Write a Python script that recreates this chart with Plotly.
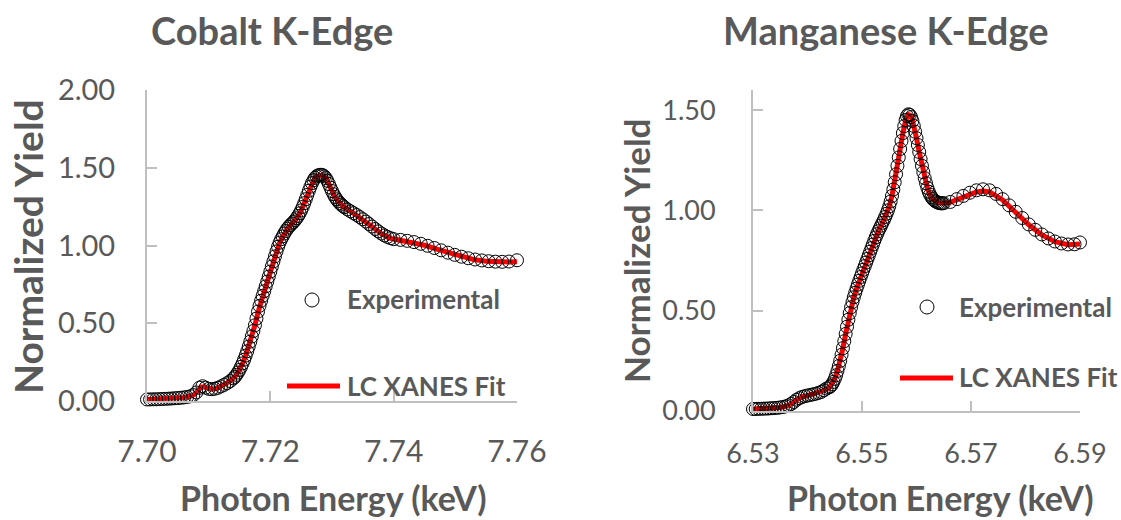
import plotly.graph_objects as go

# ---------------- Cobalt K-edge ----------------
co_exp_energy = [
    7.7000, 7.7005, 7.7010, 7.7015, 7.7020, 7.7025, 7.7030, 7.7035, 7.7040, 7.7045,
    7.7050, 7.7055, 7.7060, 7.7065, 7.7070, 7.7075, 7.7080, 7.7085, 7.7090, 7.7095,
    7.7100, 7.7105, 7.7110, 7.7115, 7.7120, 7.7125, 7.7130, 7.7135,
    7.71400, 7.71425, 7.71450, 7.71475, 7.71500, 7.71525, 7.71550, 7.71575,
    7.71600, 7.71625, 7.71650, 7.71675, 7.71700, 7.71725, 7.71750, 7.71775,
    7.71800, 7.71825, 7.71850, 7.71875, 7.71900, 7.71925, 7.71950, 7.71975,
    7.72000, 7.72025, 7.72050, 7.72075, 7.72100, 7.72125, 7.72150, 7.72175,
    7.72200, 7.72225, 7.72250, 7.72275, 7.72300, 7.72325, 7.72350, 7.72375,
    7.72400, 7.72425, 7.72450, 7.72475, 7.72500, 7.72525, 7.72550, 7.72575,
    7.72600, 7.72625, 7.72650, 7.72675, 7.72700, 7.72725, 7.72750, 7.72775,
    7.72800, 7.72825, 7.72850, 7.72875, 7.72900, 7.72925, 7.72950, 7.72975,
    7.73000, 7.73025, 7.73050, 7.73075, 7.73100, 7.73125, 7.73150, 7.73175,
    7.73200,
    7.7325, 7.7330, 7.7335, 7.7340, 7.7345, 7.7350, 7.7355, 7.7360,
    7.7365, 7.7370, 7.7375, 7.7380, 7.7385, 7.7390, 7.7395, 7.7400,
    7.7411, 7.7422, 7.7433, 7.7444, 7.7455, 7.7466, 7.7477, 7.7488, 7.7499,
    7.7510, 7.7521, 7.7532, 7.7543, 7.7554, 7.7565, 7.7576, 7.7587, 7.7600,
]
co_exp_yield = [
    0.010, 0.010, 0.011, 0.011, 0.012, 0.013, 0.014, 0.015, 0.016, 0.018,
    0.019, 0.021, 0.023, 0.026, 0.030, 0.038, 0.055, 0.085, 0.095, 0.086,
    0.078, 0.076, 0.079, 0.085, 0.094, 0.104, 0.115, 0.128,
    0.145, 0.155, 0.168, 0.183, 0.200, 0.220, 0.242, 0.266,
    0.292, 0.320, 0.350, 0.382, 0.415, 0.450, 0.487, 0.530,
    0.575, 0.612, 0.645, 0.676, 0.706, 0.737, 0.768, 0.800,
    0.832, 0.865, 0.898, 0.930, 0.962, 0.992, 1.018, 1.040,
    1.058, 1.077, 1.093, 1.108, 1.120, 1.131, 1.141, 1.151,
    1.162, 1.175, 1.190, 1.207, 1.226, 1.248, 1.272, 1.298,
    1.325, 1.352, 1.378, 1.401, 1.420, 1.435, 1.445, 1.451,
    1.454, 1.455, 1.452, 1.445, 1.433, 1.416, 1.395, 1.372,
    1.350, 1.330, 1.312, 1.297, 1.284, 1.273, 1.263, 1.254,
    1.246,
    1.232, 1.220, 1.208, 1.196, 1.183, 1.169, 1.154, 1.138,
    1.122, 1.106, 1.091, 1.077, 1.065, 1.055, 1.047, 1.041,
    1.036, 1.030, 1.022, 1.011, 0.998, 0.984, 0.969, 0.954, 0.940,
    0.928, 0.918, 0.910, 0.904, 0.899, 0.896, 0.895, 0.897, 0.905,
]
co_fit_energy = [
    7.7000, 7.7020, 7.7040, 7.7060, 7.7070, 7.7077, 7.7083, 7.7088, 7.7093, 7.7100,
    7.7107, 7.7115, 7.7125, 7.7135, 7.7145, 7.7150, 7.7155, 7.7160, 7.7165, 7.7170,
    7.7175, 7.7180, 7.7185, 7.7190, 7.7195, 7.7200, 7.7205, 7.7210, 7.7215, 7.7220,
    7.7225, 7.7230, 7.7235, 7.7240, 7.7245, 7.7250, 7.7255, 7.7260, 7.7265, 7.7270,
    7.7275, 7.7280, 7.7285, 7.7290, 7.7295, 7.7300, 7.7305, 7.7310, 7.7320, 7.7335,
    7.7350, 7.7365, 7.7380, 7.7395, 7.7410, 7.7430, 7.7450, 7.7470, 7.7490, 7.7510,
    7.7530, 7.7550, 7.7570, 7.7590, 7.7600,
]
co_fit_yield = [
    0.010, 0.012, 0.016, 0.023, 0.030, 0.042, 0.070, 0.090, 0.090, 0.079,
    0.076, 0.084, 0.103, 0.128, 0.167, 0.200, 0.242, 0.292, 0.350, 0.415,
    0.487, 0.570, 0.643, 0.704, 0.766, 0.830, 0.896, 0.960, 1.016, 1.056,
    1.091, 1.118, 1.139, 1.160, 1.188, 1.224, 1.270, 1.323, 1.376, 1.418,
    1.443, 1.452, 1.450, 1.431, 1.393, 1.348, 1.310, 1.282, 1.245, 1.207,
    1.168, 1.121, 1.076, 1.046, 1.034, 1.020, 1.002, 0.976, 0.951, 0.927,
    0.909, 0.899, 0.894, 0.894, 0.896,
]
co_x_ticks = [7.70, 7.72, 7.74, 7.76]
co_x_labels = ["7.70", "7.72", "7.74", "7.76"]
co_y_ticks = [0.0, 0.5, 1.0, 1.5, 2.0]
co_y_labels = ["0.00", "0.50", "1.00", "1.50", "2.00"]

# ---------------- Manganese K-edge ----------------
mn_exp_energy = [
    6.5300, 6.5305, 6.5310, 6.5315, 6.5320, 6.5325, 6.5330, 6.5335, 6.5340, 6.5345,
    6.5350, 6.5355, 6.5360, 6.5365, 6.5370, 6.5375, 6.5380, 6.5385, 6.5390, 6.5395,
    6.5400, 6.5405, 6.5410, 6.5415, 6.5420, 6.5425, 6.5430, 6.5435,
    6.54400, 6.54425, 6.54450, 6.54475, 6.54500, 6.54525, 6.54550, 6.54575,
    6.54600, 6.54625, 6.54650, 6.54675, 6.54700, 6.54725, 6.54750, 6.54775,
    6.54800, 6.54825, 6.54850, 6.54875, 6.54900, 6.54925, 6.54950, 6.54975,
    6.55000, 6.55025, 6.55050, 6.55075, 6.55100, 6.55125, 6.55150, 6.55175,
    6.55200, 6.55225, 6.55250, 6.55275, 6.55300, 6.55325, 6.55350, 6.55375,
    6.55400, 6.55425, 6.55450, 6.55475, 6.55500, 6.55525, 6.55550, 6.55575,
    6.55600, 6.55625, 6.55650, 6.55675, 6.55700, 6.55725, 6.55750, 6.55775,
    6.55800, 6.55825, 6.55850, 6.55875, 6.55900, 6.55925, 6.55950, 6.55975,
    6.56000, 6.56025, 6.56050, 6.56075, 6.56100, 6.56125, 6.56150, 6.56175,
    6.56200, 6.56225, 6.56250, 6.56275, 6.56300, 6.56325, 6.56350, 6.56375,
    6.56400, 6.56425, 6.56450, 6.56475, 6.56500,
    6.5662, 6.5674, 6.5686, 6.5698, 6.5710, 6.5722, 6.5734, 6.5746, 6.5758, 6.5770,
    6.5782, 6.5794, 6.5806, 6.5818, 6.5830, 6.5842, 6.5854, 6.5866, 6.5878, 6.5890,
    6.5900,
]
mn_exp_yield = [
    0.010, 0.010, 0.011, 0.011, 0.012, 0.012, 0.013, 0.014, 0.015, 0.016,
    0.018, 0.020, 0.023, 0.028, 0.035, 0.045, 0.056, 0.064, 0.070, 0.074,
    0.077, 0.080, 0.083, 0.086, 0.090, 0.095, 0.103, 0.112,
    0.118, 0.124, 0.133, 0.145, 0.160, 0.178, 0.200, 0.224,
    0.250, 0.280, 0.313, 0.348, 0.384, 0.420, 0.455, 0.488,
    0.517, 0.543, 0.567, 0.589, 0.610, 0.630, 0.649, 0.668,
    0.686, 0.704, 0.722, 0.740, 0.758, 0.776, 0.794, 0.812,
    0.830, 0.848, 0.865, 0.881, 0.896, 0.910, 0.924, 0.938,
    0.952, 0.967, 0.983, 1.000, 1.020, 1.044, 1.072, 1.104,
    1.140, 1.180, 1.222, 1.264, 1.306, 1.346, 1.385, 1.420,
    1.450, 1.470, 1.479, 1.476, 1.465, 1.446, 1.421, 1.392,
    1.360, 1.326, 1.291, 1.256, 1.222, 1.190, 1.161, 1.135,
    1.112, 1.093, 1.078, 1.066, 1.057, 1.050, 1.045, 1.041,
    1.038, 1.036, 1.035, 1.035, 1.036,
    1.042, 1.056, 1.072, 1.088, 1.100, 1.105, 1.100, 1.082, 1.056, 1.025,
    0.993, 0.962, 0.930, 0.903, 0.880, 0.860, 0.845, 0.835, 0.830, 0.831,
    0.840,
]
mn_fit_energy = [
    6.5300, 6.5330, 6.5350, 6.5360, 6.5370, 6.5380, 6.5390, 6.5405, 6.5420, 6.5430,
    6.5440, 6.5450, 6.5455, 6.5460, 6.5465, 6.5470, 6.5475, 6.5480, 6.5485, 6.5490,
    6.5500, 6.5510, 6.5520, 6.5530, 6.5540, 6.5545, 6.5550, 6.5555, 6.5560, 6.5565,
    6.5570, 6.5575, 6.5580, 6.5585, 6.5588, 6.5592, 6.5596, 6.5600, 6.5605, 6.5610,
    6.5615, 6.5620, 6.5625, 6.5630, 6.5640, 6.5650, 6.5662, 6.5686, 6.5710, 6.5722,
    6.5734, 6.5758, 6.5782, 6.5806, 6.5830, 6.5854, 6.5878, 6.5900,
]
mn_fit_yield = [
    0.010, 0.013, 0.018, 0.023, 0.035, 0.056, 0.070, 0.080, 0.090, 0.103,
    0.118, 0.160, 0.200, 0.250, 0.313, 0.384, 0.455, 0.517, 0.567, 0.610,
    0.686, 0.758, 0.830, 0.896, 0.952, 0.983, 1.020, 1.072, 1.140, 1.222,
    1.306, 1.385, 1.448, 1.477, 1.474, 1.455, 1.415, 1.360, 1.291, 1.222,
    1.161, 1.112, 1.078, 1.057, 1.038, 1.036, 1.040, 1.068, 1.092, 1.096,
    1.092, 1.052, 0.990, 0.928, 0.878, 0.844, 0.829, 0.832,
]
mn_x_ticks = [6.53, 6.55, 6.57, 6.59]
mn_x_labels = ["6.53", "6.55", "6.57", "6.59"]
mn_y_ticks = [0.0, 0.5, 1.0, 1.5]
mn_y_labels = ["0.00", "0.50", "1.00", "1.50"]

W, H = 1121, 520
FONT = "Lato"
GREY = "#595959"
AXIS = "#bfbfbf"


def px(x):
    return x / W


def py(y):
    return (H - y) / H


fig = go.Figure()

# fitted curves first, open circles drawn over them
fig.add_trace(go.Scatter(x=co_fit_energy, y=co_fit_yield, mode="lines",
                         line=dict(color="#ff0000", width=5),
                         xaxis="x", yaxis="y", cliponaxis=False, name="LC XANES Fit"))
fig.add_trace(go.Scatter(x=co_exp_energy, y=co_exp_yield, mode="markers",
                         marker=dict(symbol="circle-open", size=13, color="#000000",
                                     line=dict(width=1)),
                         xaxis="x", yaxis="y", cliponaxis=False, name="Experimental"))
fig.add_trace(go.Scatter(x=mn_fit_energy, y=mn_fit_yield, mode="lines",
                         line=dict(color="#ff0000", width=5),
                         xaxis="x2", yaxis="y2", cliponaxis=False, name="LC XANES Fit"))
fig.add_trace(go.Scatter(x=mn_exp_energy, y=mn_exp_yield, mode="markers",
                         marker=dict(symbol="circle-open", size=13, color="#000000",
                                     line=dict(width=1)),
                         xaxis="x2", yaxis="y2", cliponaxis=False, name="Experimental"))

axis_common = dict(showline=True, linecolor=AXIS, linewidth=2, ticks="inside",
                   ticklen=10, tickwidth=2, tickcolor=AXIS, showgrid=False,
                   zeroline=False, tickmode="array", automargin=False)

fig.update_layout(
    template="none",
    width=W, height=H,
    margin=dict(l=0, r=0, t=0, b=0, pad=0, autoexpand=False),
    paper_bgcolor="white", plot_bgcolor="white",
    showlegend=False,
    xaxis=dict(domain=[px(147), px(517)], range=[7.70, 7.76], anchor="y",
               tickvals=co_x_ticks, ticktext=co_x_labels,
               tickfont=dict(family=FONT, size=30, color=GREY),
               ticklabelstandoff=23, **axis_common),
    yaxis=dict(domain=[py(401), py(90)], range=[0, 2.0], anchor="x",
               tickvals=co_y_ticks, ticktext=co_y_labels,
               tickfont=dict(family=FONT, size=29, color=GREY),
               ticklabelstandoff=24, **axis_common),
    xaxis2=dict(domain=[px(753), px(1080)], range=[6.53, 6.59], anchor="y2",
                tickvals=mn_x_ticks, ticktext=mn_x_labels,
                tickfont=dict(family=FONT, size=27, color=GREY),
                ticklabelstandoff=18, **axis_common),
    yaxis2=dict(domain=[py(411), py(90)], range=[0, 1.6], anchor="x2",
                tickvals=mn_y_ticks, ticktext=mn_y_labels,
                tickfont=dict(family=FONT, size=27, color=GREY),
                ticklabelstandoff=30, **axis_common),
)


def label(text, x, y, size, angle=0, xanchor="center"):
    fig.add_annotation(text=text, x=px(x), y=py(y), xref="paper", yref="paper",
                       showarrow=False, textangle=angle, xanchor=xanchor,
                       yanchor="middle",
                       font=dict(family=FONT, size=size, color=GREY, weight="bold"))


# chart titles and axis titles
label("Cobalt K-Edge", 272, 30, 38)
label("Manganese K-Edge", 885, 30, 38)
label("Normalized Yield", 28, 247, 39, angle=-90)
label("Normalized Yield", 636, 251, 35, angle=-90)
label("Photon Energy (keV)", 333, 497, 34)
label("Photon Energy (keV)", 940, 497, 34)

# legend entries (symbol + text) placed inside each plot
for cx, cy, lx0, lx1, ly, tx, ty1, ty2 in [
    (312, 300, 287, 340, 386, 345, 299, 386),
    (927, 307, 900, 953, 378, 957, 307, 377),
]:
    r = 7
    fig.add_shape(type="circle", xref="paper", yref="paper",
                  x0=px(cx - r), x1=px(cx + r), y0=py(cy + r), y1=py(cy - r),
                  line=dict(color="#000000", width=1))
    fig.add_shape(type="line", xref="paper", yref="paper",
                  x0=px(lx0), x1=px(lx1), y0=py(ly), y1=py(ly),
                  line=dict(color="#ff0000", width=5))
    label("Experimental", tx, ty1, 26, xanchor="left")
    label("LC XANES Fit", tx, ty2, 26, xanchor="left")

fig.write_html("out.html")
